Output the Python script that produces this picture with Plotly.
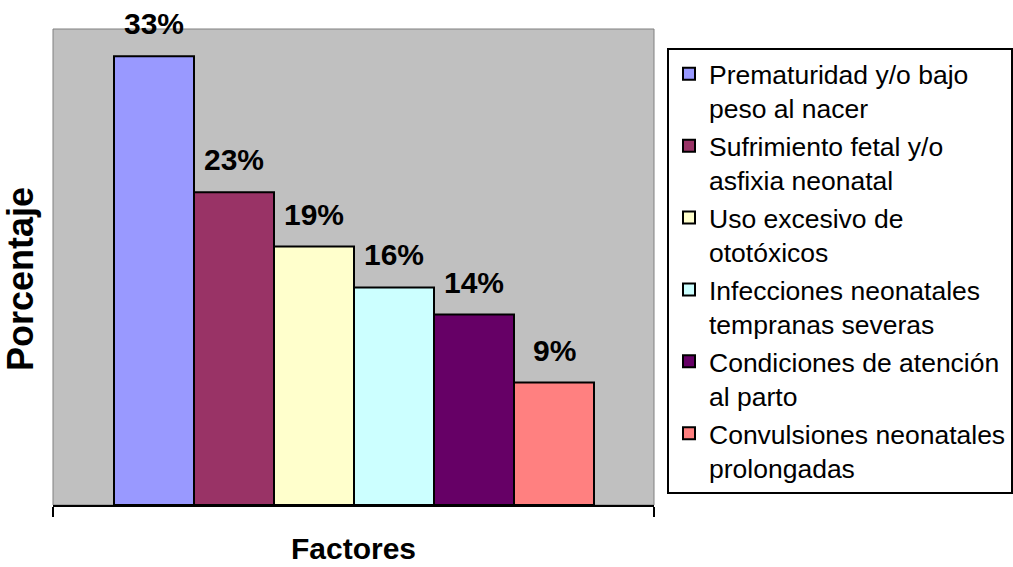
import plotly.graph_objects as go

# Factor labels (legend entries) and their share of cases, in percent
factores = [
    "Prematuridad y/o bajo<br>peso al nacer",
    "Sufrimiento fetal y/o<br>asfixia neonatal",
    "Uso excesivo de<br>ototóxicos",
    "Infecciones neonatales<br>tempranas severas",
    "Condiciones de atención<br>al parto",
    "Convulsiones neonatales<br>prolongadas",
]
porcentajes = [33, 23, 19, 16, 14, 9]
colores = ["#9999FF", "#993366", "#FFFFCC", "#CCFFFF", "#660066", "#FF8080"]

FONT = "Liberation Sans, Arial, sans-serif"

fig = go.Figure()
for i, (nombre, valor, color) in enumerate(zip(factores, porcentajes, colores)):
    fig.add_trace(go.Bar(
        x=[i], y=[valor], name=nombre, width=1,
        marker=dict(color=color, line=dict(color="black", width=2)),
        hovertemplate="%{y}%<extra></extra>",
    ))
    fig.add_annotation(
        x=i, y=valor, text=f"{valor}%", showarrow=False,
        xanchor="center", yanchor="bottom", yshift=14,
        font=dict(family=FONT, size=30, color="black", weight="bold"),
    )

n = len(porcentajes)
x_lo, x_hi = -1.2625, n - 1 + 1.25

fig.update_layout(
    width=1013, height=567,
    margin=dict(l=53, r=359, t=29, b=62, autoexpand=False),
    paper_bgcolor="white", plot_bgcolor="#C0C0C0",
    barmode="overlay",
    showlegend=True,
    legend=dict(
        x=(667 - 53) / 601, y=(505 - 48) / 476, xanchor="left", yanchor="top",
        bgcolor="white", bordercolor="black", borderwidth=2,
        font=dict(family=FONT, size=26.5, color="black"),
        valign="top", traceorder="normal",
    ),
    xaxis=dict(
        range=[x_lo, x_hi], showgrid=False, zeroline=False,
        showline=True, linecolor="black", linewidth=2,
        ticks="outside", ticklen=10, tickwidth=2, tickcolor="black",
        tickvals=[x_lo, x_hi], showticklabels=False, fixedrange=True,
    ),
    yaxis=dict(
        range=[0, 35], showgrid=False, zeroline=False, showline=False,
        showticklabels=False, ticks="", fixedrange=True,
    ),
    shapes=[dict(
        type="rect", xref="paper", yref="paper", x0=0, x1=1, y0=0, y1=1,
        line=dict(color="#808080", width=1), layer="below",
    )],
)

# Axis titles
fig.add_annotation(
    text="Factores", xref="paper", yref="paper", x=0.5, y=(505 - 567) / 476,
    xanchor="center", yanchor="bottom", showarrow=False,
    font=dict(family=FONT, size=30, color="black", weight="bold"),
)
fig.add_annotation(
    text="Porcentaje", xref="paper", yref="paper", x=-0.053, y=0.475,
    xanchor="center", yanchor="middle", showarrow=False, textangle=-90,
    font=dict(family=FONT, size=36, color="black", weight="bold"),
)

fig.write_html("out.html")
